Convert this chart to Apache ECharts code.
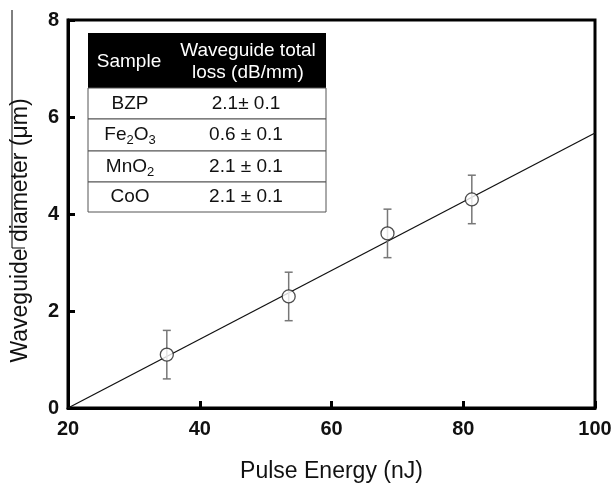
<!DOCTYPE html>
<html>
<head>
<meta charset="utf-8">
<script src="https://cdn.jsdelivr.net/npm/echarts@6/dist/echarts.min.js"></script>
<style>
  html, body { margin: 0; padding: 0; background: #fff; }
  #chart { width: 616px; height: 488px; }
</style>
</head>
<body>
<div id="chart"></div>
<script>
// measured points
var energy = [35, 53.5, 68.5, 81.3];
var diameter = [1.1, 2.3, 3.6, 4.3];
var errBar = [0.5, 0.5, 0.5, 0.5];
// linear fit
var fitX = [20, 100];
var fitY = [0, 5.67];
// inset table
var samples = ['BZP', 'Fe{s|2}O{s|3}', 'MnO{s|2}', 'CoO'];
var losses = ['2.1± 0.1', '0.6 ± 0.1', '2.1 ± 0.1', '2.1 ± 0.1'];
var xTicks = [20, 40, 60, 80, 100];
var yTicks = [0, 2, 4, 6, 8];

var font = 'Liberation Sans, Arial, sans-serif';
var chart = echarts.init(document.getElementById('chart'));

var pts = energy.map(function (e, i) { return [e, diameter[i], errBar[i]]; });
var fit = fitX.map(function (x, i) { return [x, fitY[i]]; });

// table graphic
var tbl = [];
var tx = 88, tw = 238, hy = 33, hh = 55, rowH = [31, 32, 31, 30];
tbl.push({ type: 'rect', shape: { x: tx, y: hy, width: tw, height: hh }, style: { fill: '#000' } });
tbl.push({ type: 'text', x: 129, y: hy + hh / 2 + 1, style: { text: 'Sample', fill: '#fff', font: '19px ' + font, align: 'center', verticalAlign: 'middle' } });
tbl.push({ type: 'text', x: 248, y: hy + hh / 2 + 1, style: { text: 'Waveguide total\nloss (dB/mm)', fill: '#fff', font: '19px ' + font, align: 'center', verticalAlign: 'middle', lineHeight: 22 } });
var ry = hy + hh;
samples.forEach(function (s, i) {
  var h = rowH[i];
  tbl.push({ type: 'rect', shape: { x: tx, y: ry, width: tw, height: h }, style: { fill: '#fff', stroke: '#555', lineWidth: 1 } });
  tbl.push({ type: 'text', x: 130, y: ry + h / 2, style: {
    text: '{a|' + s.replace(/\{s\|(\d)\}/g, '}{s|$1}{a|') + '}', align: 'center', verticalAlign: 'middle',
    rich: { a: { font: '19px ' + font, fill: '#111' }, s: { font: '13px ' + font, fill: '#111', padding: [11, 0, 0, 0] } }
  } });
  tbl.push({ type: 'text', x: 246, y: ry + h / 2, style: { text: losses[i], fill: '#111', font: '19px ' + font, align: 'center', verticalAlign: 'middle' } });
  ry += h;
});
// stray crop line at left edge
tbl.push({ type: 'line', shape: { x1: 12, y1: 10, x2: 12, y2: 248 }, style: { stroke: '#000', lineWidth: 1 } });
tbl.push({ type: 'line', shape: { x1: 12, y1: 248, x2: 25, y2: 248 }, style: { stroke: '#000', lineWidth: 1 } });

chart.setOption({
  animation: false,
  grid: { left: 68, right: 21, top: 20, bottom: 77, show: true, borderColor: '#000', borderWidth: 3, backgroundColor: 'transparent' },
  xAxis: {
    type: 'value', min: 20, max: 100, interval: 20,
    name: 'Pulse Energy (nJ)', nameLocation: 'middle', nameGap: 52,
    nameTextStyle: { fontSize: 23, color: '#111', fontFamily: font },
    axisLine: { lineStyle: { color: '#000', width: 3 } },
    axisTick: { inside: true, length: 7, lineStyle: { color: '#000', width: 3 } },
    axisLabel: { fontSize: 20, fontWeight: 'bold', color: '#111', fontFamily: font, margin: 11,
      formatter: function (v) { return xTicks.indexOf(v) >= 0 ? String(v) : ''; } },
    splitLine: { show: false }
  },
  yAxis: {
    type: 'value', min: 0, max: 8, interval: 2,
    name: 'Waveguide diameter (μm)', nameLocation: 'middle', nameGap: 36,
    nameTextStyle: { fontSize: 23, color: '#111', fontFamily: font, padding: [0, 33, 0, 0] },
    axisLine: { lineStyle: { color: '#000', width: 3 } },
    axisTick: { inside: true, length: 7, lineStyle: { color: '#000', width: 3 } },
    axisLabel: { fontSize: 20, fontWeight: 'bold', color: '#111', fontFamily: font, margin: 9,
      formatter: function (v) { return yTicks.indexOf(v) >= 0 ? String(v) : ''; } },
    splitLine: { show: false }
  },
  graphic: tbl,
  series: [
    {
      type: 'line', data: fit, symbol: 'none', z: 2,
      lineStyle: { color: '#111', width: 1.3 }
    },
    {
      type: 'custom', data: pts, z: 3,
      renderItem: function (params, api) {
        var x = api.value(0), y = api.value(1), e = api.value(2);
        var top = api.coord([x, y + e]), bot = api.coord([x, y - e]);
        var c = 4;
        var st = { stroke: '#777', lineWidth: 1.5 };
        return { type: 'group', children: [
          { type: 'line', shape: { x1: top[0], y1: top[1], x2: bot[0], y2: bot[1] }, style: st },
          { type: 'line', shape: { x1: top[0] - c, y1: top[1], x2: top[0] + c, y2: top[1] }, style: st },
          { type: 'line', shape: { x1: bot[0] - c, y1: bot[1], x2: bot[0] + c, y2: bot[1] }, style: st }
        ] };
      }
    },
    {
      type: 'scatter', data: pts, symbol: 'circle', symbolSize: 13, z: 4,
      itemStyle: { color: '#fff', borderColor: '#222', borderWidth: 1.3 }
    }
  ]
});
</script>
</body>
</html>
